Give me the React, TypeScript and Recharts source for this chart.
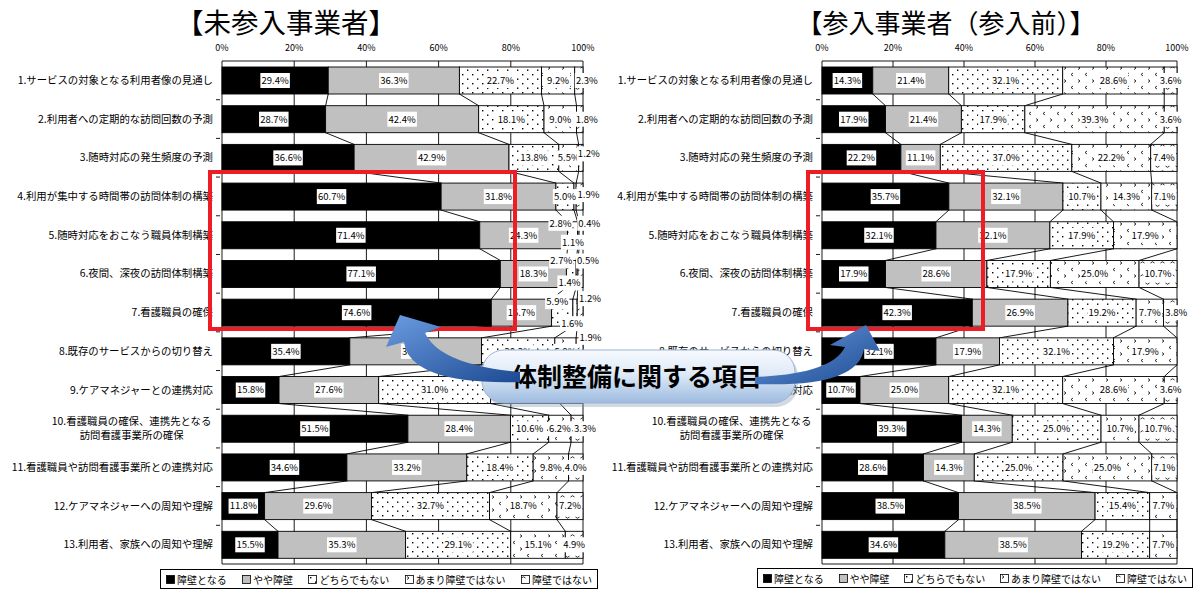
import React from 'react';
import { BarChart, Bar, XAxis, YAxis, CartesianGrid, LabelList } from 'recharts';

const categories = [
  '1.サービスの対象となる利用者像の見通し',
  '2.利用者への定期的な訪問回数の予測',
  '3.随時対応の発生頻度の予測',
  '4.利用が集中する時間帯の訪問体制の構築',
  '5.随時対応をおこなう職員体制構築',
  '6.夜間、深夜の訪問体制構築',
  '7.看護職員の確保',
  '8.既存のサービスからの切り替え',
  '9.ケアマネジャーとの連携対応',
  '10.看護職員の確保、連携先となる\n訪問看護事業所の確保',
  '11.看護職員や訪問看護事業所との連携対応',
  '12.ケアマネジャーへの周知や理解',
  '13.利用者、家族への周知や理解',
];

const seriesNames = ['障壁となる', 'やや障壁', 'どちらでもない', 'あまり障壁ではない', '障壁ではない'];
const ticks = [0, 0.2, 0.4, 0.6, 0.8, 1];

// 未参入事業者
const notEntered1 = [29.4, 28.7, 36.6, 60.7, 71.4, 77.1, 74.6, 35.4, 15.8, 51.5, 34.6, 11.8, 15.5];
const notEntered2 = [36.3, 42.4, 42.9, 31.8, 24.3, 18.3, 16.7, 36.5, 27.6, 28.4, 33.2, 29.6, 35.3];
const notEntered3 = [22.7, 18.1, 13.8, 5.0, 2.8, 2.7, 5.9, 20.3, 31.0, 10.6, 18.4, 32.7, 29.1];
const notEntered4 = [9.2, 9.0, 5.5, 0.6, 0.4, 0.5, 1.2, 5.9, 19.2, 6.2, 9.8, 18.7, 15.1];
const notEntered5 = [2.3, 1.8, 1.2, 1.9, 1.1, 1.4, 1.6, 1.9, 6.4, 3.3, 4.0, 7.2, 4.9];

// 参入事業者(参入前)
const entered1 = [14.3, 17.9, 22.2, 35.7, 32.1, 17.9, 42.3, 32.1, 10.7, 39.3, 28.6, 38.5, 34.6];
const entered2 = [21.4, 21.4, 11.1, 32.1, 32.1, 28.6, 26.9, 17.9, 25.0, 14.3, 14.3, 38.5, 38.5];
const entered3 = [32.1, 17.9, 37.0, 10.7, 17.9, 17.9, 19.2, 32.1, 32.1, 25.0, 25.0, 15.4, 19.2];
const entered4 = [28.6, 39.3, 22.2, 14.3, 17.9, 25.0, 7.7, 17.9, 28.6, 10.7, 25.0, 7.7, 7.7];
const entered5 = [3.6, 3.6, 7.4, 7.1, 0, 10.7, 3.8, 0, 3.6, 10.7, 7.1, 0, 0];

const FONT = '"Noto Sans CJK JP", "Noto Sans", sans-serif';
const KEYS = ['s1', 's2', 's3', 's4', 's5'];
const CH = 591;
const TOP = 36;
const XH = 25;
const BOTTOM = 27;
const PLOT_H = CH - TOP - XH - BOTTOM;
const BAND = PLOT_H / categories.length;

// label nudges for the small segments (row-series)
const leftNudges: Record<string, [number, number]> = {
  '0-4': [8, 0],
  '1-4': [7, 0],
  '2-4': [8, -4],
  '3-4': [9, -2],
  '4-2': [-12, -12],
  '4-3': [11, -12],
  '4-4': [-8, 7],
  '5-2': [-10, -13],
  '5-3': [11, -13],
  '5-4': [-11, 9],
  '6-2': [-5, -11],
  '6-3': [15, -14],
  '6-4': [-8, 11],
  '7-4': [11, -14],
  '9-4': [8, 0],
};
// covered by the callout in the original
const leftHidden = ['3-3', '8-3', '8-4'];
const rightNudges: Record<string, [number, number]> = {
  '6-4': [6, 0],
};

const fills = (p: string) => ['#000', '#c0c0c0', `url(#${p}-dots)`, `url(#${p}-chev)`, `url(#${p}-wave)`];

const textWidth = (s: string, fs: number) =>
  s.split('').reduce((a, c) => a + (c.charCodeAt(0) < 256 ? 0.55 : 1) * fs, 0);

const CatTick = (props: any) => {
  const { x, y, payload, index } = props;
  const lines = String(payload.value).split('\n');
  const fs = 10.4;
  const ty = y - BAND / 2;
  const mark = index > 0 && <line x1={x + 3} x2={x + 7} y1={ty} y2={ty} stroke="#000" strokeWidth={0.9} />;
  if (lines.length === 1) {
    return (
      <g>
        {mark}
        <text x={x} y={y} dy="0.35em" textAnchor="end" fontSize={fs} fontFamily={FONT} fill="#000">
          {lines[0]}
        </text>
      </g>
    );
  }
  const cx = x - textWidth(lines[0], fs) / 2;
  return (
    <g>
      {mark}
      <text x={cx} y={y} textAnchor="middle" fontSize={fs} fontFamily={FONT} fill="#000">
        <tspan x={cx} dy="-0.35em">{lines[0]}</tspan>
        <tspan x={cx} dy="1.4em">{lines[1]}</tspan>
      </text>
    </g>
  );
};

type PanelProps = {
  prefix: string;
  left: number;
  width: number;
  axisWidth: number;
  marginRight: number;
  series: number[][];
  nudges: Record<string, [number, number]>;
  hidden: string[];
};

const Panel = ({ prefix, left, width, axisWidth, marginRight, series, nudges, hidden }: PanelProps) => {
  const plotW = width - axisWidth - marginRight;
  const rows = categories.map((name, i) => {
    const r: any = { name };
    series.forEach((s, k) => (r[KEYS[k]] = s[i]));
    return r;
  });
  const cum = categories.map((_, i) => {
    const tot = series.reduce((a, s) => a + s[i], 0);
    let acc = 0;
    return series.map((s) => (acc += s[i]) / tot);
  });
  const f = fills(prefix);

  const makeShape = (si: number) => (props: any) => {
    const { x, y, width: w, height: h, index } = props;
    const ww = Math.max(w || 0, 0);
    return (
      <g>
        <rect x={x} y={y} width={ww} height={h} fill={f[si]} stroke="#000" strokeWidth={0.9} />
        {si < 4 && index < categories.length - 1 && (
          <line
            x1={x + ww}
            y1={y + h}
            x2={x + ww + (cum[index + 1][si] - cum[index][si]) * plotW}
            y2={y + BAND}
            stroke="#000"
            strokeWidth={0.9}
          />
        )}
      </g>
    );
  };

  const makeLabel = (si: number) => (props: any) => {
    const vb = props.viewBox || props;
    const { x, y, width: w, height: h } = vb;
    const index = props.index;
    const v = series[si][index];
    const key = `${index}-${si}`;
    if (!v || hidden.includes(key)) return null;
    const [dx, dy] = nudges[key] || [0, 0];
    const cx = x + w / 2 + dx;
    const cy = y + h / 2 + dy;
    const txt = `${v.toFixed(1)}%`;
    const tw = txt.length * 5.3 + 3;
    return (
      <g>
        <rect x={cx - tw / 2} y={cy - 7.5} width={tw} height={15} fill="#fff" />
        <text x={cx} y={cy} dy="0.35em" textAnchor="middle" fontSize={9.5} fontFamily={FONT} fill="#000">
          {txt}
        </text>
      </g>
    );
  };

  return (
    <div style={{ position: 'absolute', left, top: 0 }}>
      <BarChart
        width={width}
        height={CH}
        data={rows}
        layout="vertical"
        stackOffset="expand"
        barSize={27}
        margin={{ top: TOP, right: marginRight, bottom: BOTTOM, left: 0 }}
      >
        <defs>
          <pattern id={`${prefix}-dots`} width="10" height="9" patternUnits="userSpaceOnUse">
            <rect width="10" height="9" fill="#fff" />
            <rect x="2" y="2" width="1.4" height="1.4" fill="#000" />
            <rect x="7" y="6.5" width="1.4" height="1.4" fill="#000" />
          </pattern>
          <pattern id={`${prefix}-chev`} width="14" height="13" patternUnits="userSpaceOnUse">
            <rect width="14" height="13" fill="#fff" />
            <path d="M2 1.5 L4 3 L2 4.5" fill="none" stroke="#000" strokeWidth={0.8} />
            <path d="M11 8 L9 9.5 L11 11" fill="none" stroke="#000" strokeWidth={0.8} />
          </pattern>
          <pattern id={`${prefix}-wave`} width="10" height="13" patternUnits="userSpaceOnUse">
            <rect width="10" height="13" fill="#fff" />
            <path d="M0.5 3 Q2.5 0.5 4.5 3" fill="none" stroke="#000" strokeWidth={0.8} />
            <path d="M5.5 10 Q7.5 12.5 9.5 10" fill="none" stroke="#000" strokeWidth={0.8} />
          </pattern>
        </defs>
        <CartesianGrid
          stroke="#000"
          strokeWidth={0.9}
          horizontalCoordinatesGenerator={(p: any) => [p.offset.top, p.offset.top + p.offset.height]}
        />
        <XAxis
          type="number"
          orientation="top"
          domain={[0, 1]}
          ticks={ticks}
          tickFormatter={(v: number) => `${Math.round(v * 100)}%`}
          axisLine={false}
          tickLine={false}
          tickMargin={4}
          height={XH}
          tick={{ fontSize: 9, fill: '#000', fontFamily: FONT }}
        />
        <YAxis
          type="category"
          dataKey="name"
          width={axisWidth}
          axisLine={false}
          tickLine={false}
          tickMargin={3}
          interval={0}
          tick={(p: any) => <CatTick {...p} />}
        />
        {KEYS.map((k, si) => (
          <Bar key={k} dataKey={k} stackId="a" isAnimationActive={false} shape={makeShape(si)}>
            <LabelList dataKey={k} content={makeLabel(si)} />
          </Bar>
        ))}
      </BarChart>
    </div>
  );
};

const LegendBox = ({ left, top, width, prefix }: { left: number; top: number; width: number; prefix: string }) => {
  const f = fills(prefix);
  return (
    <div
      style={{
        position: 'absolute',
        left,
        top,
        width,
        height: 20,
        boxSizing: 'border-box',
        border: '1px solid #000',
        background: '#fff',
        display: 'flex',
        justifyContent: 'space-between',
        alignItems: 'center',
        padding: '0 5px',
        fontSize: 10,
        fontFamily: FONT,
        color: '#000',
      }}
    >
      {seriesNames.map((n, i) => (
        <span key={n} style={{ display: 'flex', alignItems: 'center', whiteSpace: 'nowrap' }}>
          <svg width={9} height={9} style={{ marginRight: 2 }}>
            <rect x={0.5} y={0.5} width={8} height={8} fill={f[i]} stroke="#000" strokeWidth={0.8} />
          </svg>
          {n}
        </span>
      ))}
    </div>
  );
};

const Overlay = () => (
  <svg width={1196} height={591} style={{ position: 'absolute', left: 0, top: 0, pointerEvents: 'none' }}>
    <defs>
      <linearGradient id="pillGrad" x1="0" y1="0" x2="0" y2="1">
        <stop offset="0%" stopColor="#f7faff" />
        <stop offset="45%" stopColor="#dfeaf7" />
        <stop offset="100%" stopColor="#9dbbe0" />
      </linearGradient>
      <linearGradient id="arrowGrad" x1="0" y1="0" x2="1" y2="1">
        <stop offset="0%" stopColor="#6b9be0" />
        <stop offset="100%" stopColor="#1d4b93" />
      </linearGradient>
    </defs>
    <text x={286} y={32.5} textAnchor="middle" fontSize={27.5} fontFamily={FONT} fill="#000">
      【未参入事業者】
    </text>
    <text x={946} y={32.5} textAnchor="middle" fontSize={26} fontFamily={FONT} fill="#000">
      【参入事業者（参入前）】
    </text>
    <rect x={210} y={172} width={305} height={157} fill="none" stroke="#ee1c25" strokeWidth={4} />
    <rect x={808} y={172} width={175} height={157} fill="none" stroke="#ee1c25" strokeWidth={4} />
    <rect x={485} y={354} width={313} height={53} rx={22} fill="#7f93ad" opacity={0.35} />
    <rect x={482} y={350} width={313} height={53} rx={22} fill="url(#pillGrad)" stroke="#9db3d3" strokeWidth={1} />
    <text x={637} y={377} dy="0.35em" textAnchor="middle" fontSize={25} fontWeight={700} fontFamily={FONT} fill="#000">
      体制整備に関する項目
    </text>
    <path
      d="M400 315 L441 327 L425 333 Q440 365 520 372 L520 382 Q410 385 404 342 L386 347 Z"
      fill="url(#arrowGrad)"
    />
    <path
      d="M866 325 L880 351 L864 349 Q858 388 755 384 L755 377 Q832 374 845 347 L830 345 Z"
      fill="url(#arrowGrad)"
    />
  </svg>
);

export default function App() {
  return (
    <div style={{ position: 'absolute', left: 0, top: 0, width: 1196, height: 591, background: '#fff', overflow: 'hidden' }}>
      <Panel
        prefix="ne"
        left={0}
        width={620}
        axisWidth={222}
        marginRight={37}
        series={[notEntered1, notEntered2, notEntered3, notEntered4, notEntered5]}
        nudges={leftNudges}
        hidden={leftHidden}
      />
      <Panel
        prefix="en"
        left={600}
        width={596}
        axisWidth={222}
        marginRight={19}
        series={[entered1, entered2, entered3, entered4, entered5]}
        nudges={rightNudges}
        hidden={[]}
      />
      <LegendBox left={160} top={569} width={438} prefix="ne" />
      <LegendBox left={757} top={568} width={436} prefix="en" />
      <Overlay />
    </div>
  );
}
